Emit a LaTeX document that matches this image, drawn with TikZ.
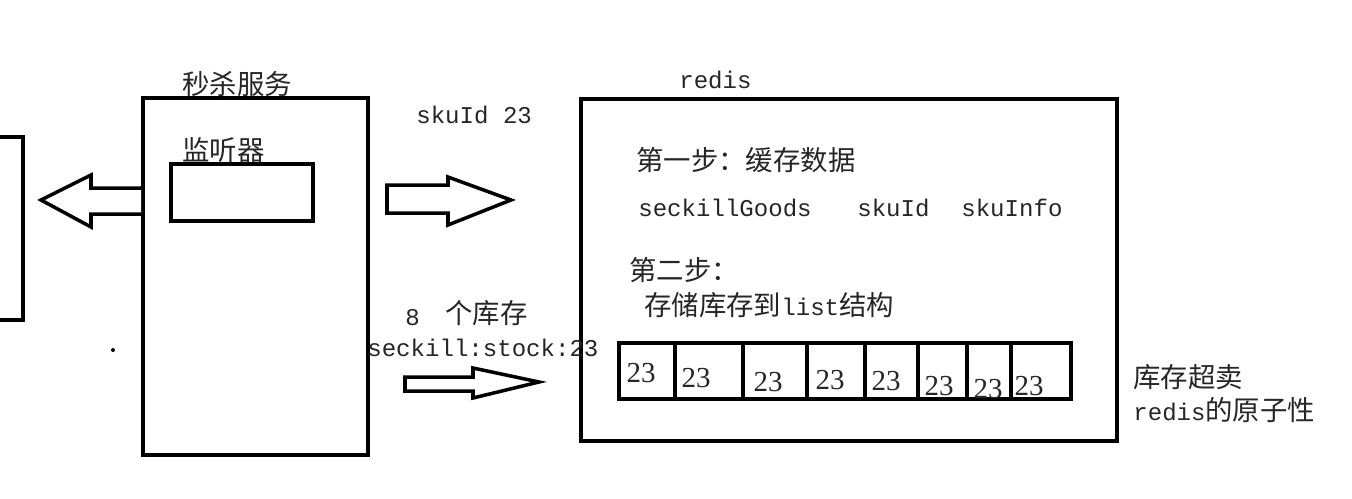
\documentclass[tikz,border=0pt]{standalone}
\usepackage{fontspec}
\setmainfont{Liberation Mono}
\newfontfamily\zhfont{Noto Sans CJK SC}
\newfontfamily\numfont{Liberation Serif}
\usetikzlibrary{fit}
\newcommand\monosz{\fontsize{13.7pt}{16pt}\selectfont}
\newcommand\zh{\zhfont\fontsize{15.6pt}{18pt}\selectfont}
\newcommand\zhm[1]{{\zhfont\fontsize{15.6pt}{18pt}\selectfont #1}}
\tikzset{
  box/.style={draw=black, line width=2.2pt, inner sep=0pt},
  blockarrow/.style={draw=black, line width=2pt, fill=white, line join=miter},
  divider/.style={draw=black, line width=2.2pt},
  txt/.style={anchor=west, inner sep=0pt, text=black!85, font=\monosz},
  num/.style={inner sep=0pt, text=black!85, font=\numfont\fontsize{16.5pt}{19pt}\selectfont},
}
\begin{document}
\begin{tikzpicture}[x=0.02cm, y=-0.02cm]
\useasboundingbox (0,0) rectangle (1352,498);
\fill[white] (0,0) rectangle (1352,498);

% boxes
\node[box, fit={(-40,137) (23,320)}] (ext) {};
\node[box, fit={(143,98) (368,455)}] (svc) {};
\node[box, fit={(171,164) (313,221)}] (listener) {};
\node[box, fit={(581,99) (1117,441)}] (redis) {};
\node[box, fit={(619,343) (1071,399)}] (list) {};

% list dividers
\foreach \xx in {675,743,807,865,918,967,1011}
  \draw[divider] (\xx,343) -- (\xx,399);

% list values
\node[num] (c1) at (641,373) {23};
\node[num] (c2) at (696,378) {23};
\node[num] (c3) at (768,382) {23};
\node[num] (c4) at (830,380) {23};
\node[num] (c5) at (886,381) {23};
\node[num] (c6) at (939,386) {23};
\node[num] (c7) at (988,389) {23};
\node[num] (c8) at (1029,386) {23};

% block arrows
\draw[blockarrow] (svc.west |- 0,188) -- (91,188) -- (91,175) -- (41,200) -- (91,227) -- (91,214) -- (svc.west |- 0,214);
\draw[blockarrow] (387,185) -- (448,185) -- (448,177) -- (511,200) -- (448,225) -- (448,213) -- (387,213) -- cycle;
\draw[blockarrow] (405,377) -- (473,377) -- (473,368) -- (539,382) -- (473,398) -- (473,391) -- (405,391) -- cycle;

% stray dot
\fill[black] (113,350) circle (2);

% labels
\node[txt] (svclabel) at (182,84) {\zh 秒杀服务};
\node[txt] (lislabel) at (182,150) {\zh 监听器};
\node[txt] (skulabel) at (416,115) {skuId 23};
\node[txt] (eight) at (405,318) {8};
\node[txt] (stockcn) at (445,313) {\zh 个库存};
\node[txt] (stockkey) at (367,348) {seckill:stock:23};
\node[txt] (redislabel) at (679,80) {redis};
\node[txt] (step1) at (636,160) {\zh 第一步：缓存数据};
\node[txt] (goods) at (638,208) {seckillGoods};
\node[txt] (skuid) at (857,208) {skuId};
\node[txt] (skuinfo) at (961,208) {skuInfo};
\node[txt] (step2) at (629,270) {\zh 第二步：};
\node[txt] (store) at (644,305) {\zhm{存储库存到}list\zhm{结构}};
\node[txt] (oversell) at (1133,377) {\zh 库存超卖};
\node[txt] (atomic) at (1133,410) {redis\zhm{的原子性}};
\end{tikzpicture}
\end{document}
